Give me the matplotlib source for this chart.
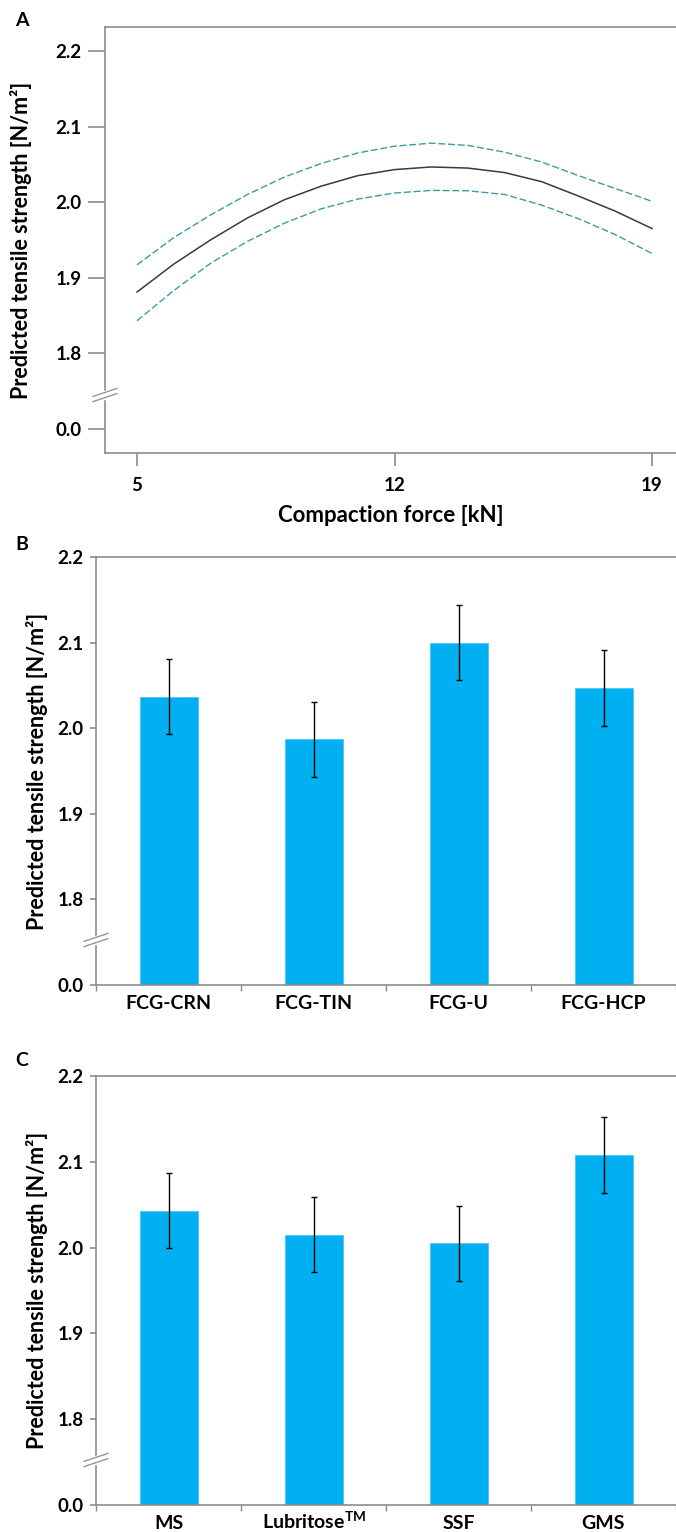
import numpy as np
import matplotlib
matplotlib.use("Agg")
import matplotlib.pyplot as plt

# Panel A: predicted tensile strength vs compaction force (with 95% CI)
force_kn = [5, 6, 7, 8, 9, 10, 11, 12, 13, 14, 15, 16, 17, 18, 19]
ts_pred = [1.881, 1.918, 1.950, 1.979, 2.003, 2.021, 2.035, 2.043, 2.0465,
           2.045, 2.039, 2.027, 2.008, 1.988, 1.965]
ts_upper = [1.917, 1.953, 1.983, 2.010, 2.033, 2.051, 2.065, 2.074, 2.078,
            2.075, 2.066, 2.053, 2.035, 2.018, 2.001]
ts_lower = [1.843, 1.883, 1.919, 1.948, 1.972, 1.991, 2.004, 2.012, 2.0155,
            2.015, 2.010, 1.996, 1.978, 1.957, 1.932]
force_ticks = [5, 12, 19]

# Panel B: granule type
granules = ["FCG-CRN", "FCG-TIN", "FCG-U", "FCG-HCP"]
granule_ts = [2.037, 1.987, 2.100, 2.047]
granule_err = [0.044, 0.044, 0.044, 0.044]

# Panel C: lubricant
lubricants = ["MS", "Lubritose$^{\\mathregular{TM}}$", "SSF", "GMS"]
lubricant_ts = [2.043, 2.015, 2.005, 2.108]
lubricant_err = [0.044, 0.044, 0.044, 0.044]

y_ticks = [0.0, 1.8, 1.9, 2.0, 2.1, 2.2]

FONT = ["Lato", "DejaVu Sans"]
BAR_COLOR = "#00B0F0"
SPINE_COLOR = "#8c8c8c"
CI_COLOR = "#3a9e9e"
YLABEL = "Predicted tensile strength [N/m\u00b2]"

plt.rcParams.update({
    "font.family": FONT,
    "font.weight": "bold",
    "axes.labelweight": "bold",
    "mathtext.fontset": "custom",
    "mathtext.rm": "Lato:bold",
    "mathtext.default": "regular",
})

# broken axis: everything below 1.75 is squeezed into a short strip
CUT = 1.75
LOW = 1.70


def fwd(y):
    y = np.asarray(y, dtype=float)
    return np.where(y >= CUT, y, LOW + y * (CUT - LOW) / CUT)


def inv(v):
    v = np.asarray(v, dtype=float)
    return np.where(v >= CUT, v, (v - LOW) * CUT / (CUT - LOW))


def low_data(v):
    return float(inv(v))


fig = plt.figure(figsize=(6.76, 15.32), dpi=100)
W, H = 676.0, 1532.0


def rect(left, top, bottom):
    return [left / W, 1 - bottom / H, 1 - left / W, (bottom - top) / H]


def style(ax, tick_len):
    ax.set_yscale("function", functions=(fwd, inv))
    ax.set_yticks(y_ticks)
    ax.set_yticklabels([f"{t:.1f}" for t in y_ticks])
    ax.spines["right"].set_visible(False)
    for s in ("left", "top", "bottom"):
        ax.spines[s].set_color(SPINE_COLOR)
        ax.spines[s].set_linewidth(1.2)
    ax.tick_params(axis="y", direction="out", length=tick_len, width=1.2,
                   color=SPINE_COLOR, labelsize=13.5, pad=5)
    for lab in ax.get_yticklabels():
        lab.set_fontweight("bold")


def add_break(ax, yfrac):
    # white gap in the spine plus two slanted strokes, sized in pixels
    bb = ax.get_position()
    wpx, hpx = bb.width * W, bb.height * H
    dx, dy, gap = 12 / wpx, 4 / hpx, 2.6 / hpx
    ax.plot([0, 0], [yfrac - gap, yfrac + gap], color="white", lw=2.5,
            transform=ax.transAxes, clip_on=False, zorder=5)
    for off in (-gap, gap):
        ax.plot([-dx, dx], [yfrac + off - dy, yfrac + off + dy],
                color=SPINE_COLOR, lw=0.9, transform=ax.transAxes,
                clip_on=False, zorder=6)


# ---- A ----
axA = fig.add_axes(rect(105, 27, 453))
axA.plot(force_kn, ts_upper, color=CI_COLOR, lw=1.0, dashes=(5, 2))
axA.plot(force_kn, ts_lower, color=CI_COLOR, lw=1.0, dashes=(5, 2))
axA.plot(force_kn, ts_pred, color="#3a3a3a", lw=1.1)
style(axA, 12)
axA.set_ylim(low_data(1.668), 2.2317)
axA.set_xlim(4.13, 19.65)
axA.set_xticks(force_ticks)
axA.tick_params(axis="x", direction="out", length=9, width=1.2,
                color=SPINE_COLOR, labelsize=13.5, pad=8)
for lab in axA.get_xticklabels():
    lab.set_fontweight("bold")
axA.set_xlabel("Compaction force [kN]", fontsize=16, labelpad=8)
axA.set_ylabel(YLABEL, fontsize=15.5)
axA.yaxis.set_label_coords((32 - 105) / (W - 105), 0.5)
add_break(axA, (453 - 395) / 426)
fig.text(15 / W, 1 - 20 / H, "A", fontsize=14, fontweight="bold",
         va="center", ha="left")


def bar_panel(top, bottom, labels, values, errs, letter, letter_y):
    left = 96
    ax = fig.add_axes(rect(left, top, bottom))
    x = np.arange(len(labels))
    ax.bar(x, values, width=0.40, bottom=0, color=BAR_COLOR,
           edgecolor="#4cc6f4", linewidth=0.6, zorder=2)
    ax.errorbar(x, values, yerr=errs, fmt="none", ecolor="black",
                elinewidth=1.0, capsize=2.2, capthick=1.0, zorder=3)
    style(ax, 4)
    ax.set_ylim(0, 2.2)
    ax.set_xlim(-0.5, -0.5 + (W - left) / 146.0)
    ax.set_xticks(np.arange(len(labels) + 1) - 0.5)
    ax.set_xticklabels([])
    ax.set_xticks(x, minor=True)
    ax.set_xticklabels(labels, minor=True, fontsize=14, fontweight="bold")
    ax.tick_params(axis="x", which="major", direction="out", length=4,
                   width=1.0, color=SPINE_COLOR)
    # baseline-aligned so the superscript does not push a label down
    ax.tick_params(axis="x", which="minor", length=0, pad=17)
    for lab in ax.get_xticklabels(minor=True):
        lab.set_verticalalignment("baseline")
    ax.set_ylabel(YLABEL, fontsize=15.5)
    ax.yaxis.set_label_coords((48 - left) / (W - left), 0.5)
    add_break(ax, 45 / (bottom - top))
    fig.text(15 / W, 1 - letter_y / H, letter, fontsize=14,
             fontweight="bold", va="center", ha="left")
    return ax


bar_panel(557, 985, granules, granule_ts, granule_err, "B", 545)
bar_panel(1076, 1505, lubricants, lubricant_ts, lubricant_err, "C", 1060)

fig.savefig("out.png", dpi=100, facecolor="white")
